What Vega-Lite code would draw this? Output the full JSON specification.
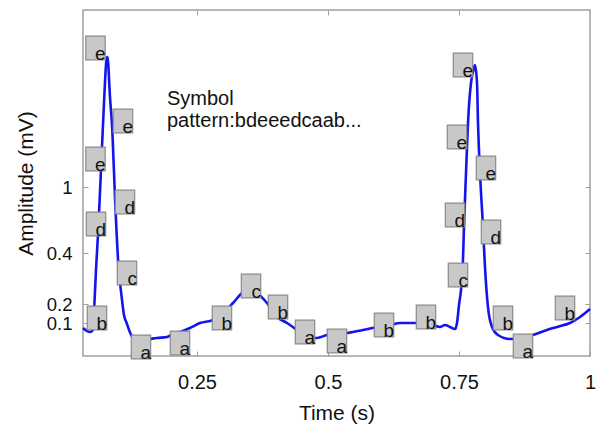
{
  "$schema": "https://vega.github.io/schema/vega-lite/v6.json",
  "width": 507,
  "height": 346,
  "autosize": "none",
  "padding": {"left": 83, "top": 10, "right": 7, "bottom": 73},
  "background": "white",
  "config": {
    "view": {"stroke": "#a0a0a0", "strokeWidth": 1.5},
    "font": "Liberation Sans",
    "axis": {
      "grid": false,
      "domain": false,
      "tickColor": "#a0a0a0",
      "tickSize": -5,
      "tickWidth": 1,
      "labelOverlap": false,
      "labelFont": "Liberation Sans",
      "labelFontSize": 20,
      "labelColor": "#111111",
      "titleFont": "Liberation Sans",
      "titleFontSize": 21,
      "titleFontWeight": "normal",
      "titleColor": "#111111"
    }
  },
  "datasets": {
    "signal": [
      {"t": 0.0325, "u": 28}, {"t": 0.0458, "u": 24}, {"t": 0.0515, "u": 26}, {"t": 0.054, "u": 49},
      {"t": 0.0573, "u": 86}, {"t": 0.0616, "u": 126}, {"t": 0.0668, "u": 186}, {"t": 0.0731, "u": 259},
      {"t": 0.0777, "u": 298}, {"t": 0.0792, "u": 299}, {"t": 0.084, "u": 259}, {"t": 0.0884, "u": 226},
      {"t": 0.0935, "u": 159}, {"t": 0.0998, "u": 93}, {"t": 0.1063, "u": 59}, {"t": 0.1107, "u": 41},
      {"t": 0.1158, "u": 33}, {"t": 0.1254, "u": 20}, {"t": 0.1374, "u": 15}, {"t": 0.1469, "u": 16},
      {"t": 0.1603, "u": 17}, {"t": 0.1737, "u": 18}, {"t": 0.1927, "u": 19}, {"t": 0.2042, "u": 22},
      {"t": 0.2176, "u": 24}, {"t": 0.2366, "u": 28}, {"t": 0.2557, "u": 33}, {"t": 0.2805, "u": 36},
      {"t": 0.2996, "u": 43}, {"t": 0.3187, "u": 53}, {"t": 0.3359, "u": 63}, {"t": 0.3473, "u": 67},
      {"t": 0.3645, "u": 63}, {"t": 0.3836, "u": 53}, {"t": 0.4027, "u": 39}, {"t": 0.4218, "u": 33},
      {"t": 0.4408, "u": 26}, {"t": 0.4599, "u": 19}, {"t": 0.479, "u": 18}, {"t": 0.4981, "u": 21},
      {"t": 0.5363, "u": 23}, {"t": 0.5668, "u": 26}, {"t": 0.5935, "u": 29}, {"t": 0.6183, "u": 31},
      {"t": 0.6374, "u": 33}, {"t": 0.6622, "u": 33}, {"t": 0.6889, "u": 33}, {"t": 0.7004, "u": 31},
      {"t": 0.7137, "u": 29}, {"t": 0.7233, "u": 31}, {"t": 0.7328, "u": 29}, {"t": 0.7424, "u": 27},
      {"t": 0.7462, "u": 33}, {"t": 0.75, "u": 51}, {"t": 0.7538, "u": 66}, {"t": 0.7576, "u": 96},
      {"t": 0.7595, "u": 129}, {"t": 0.7634, "u": 183}, {"t": 0.7672, "u": 233}, {"t": 0.7729, "u": 273},
      {"t": 0.7767, "u": 284}, {"t": 0.7805, "u": 291}, {"t": 0.7844, "u": 273}, {"t": 0.7863, "u": 233},
      {"t": 0.7901, "u": 183}, {"t": 0.7958, "u": 129}, {"t": 0.7996, "u": 89}, {"t": 0.8053, "u": 49},
      {"t": 0.813, "u": 29}, {"t": 0.8244, "u": 21}, {"t": 0.8473, "u": 17}, {"t": 0.8721, "u": 18},
      {"t": 0.8912, "u": 21}, {"t": 0.9179, "u": 26}, {"t": 0.937, "u": 29}, {"t": 0.9618, "u": 33},
      {"t": 0.9809, "u": 39}, {"t": 1.0, "u": 47}
    ],
    "symbols": [
      {"t": 0.0563, "u": 308, "s": "e"}, {"t": 0.1088, "u": 235, "s": "e"}, {"t": 0.0563, "u": 197, "s": "e"},
      {"t": 0.0573, "u": 132, "s": "d"}, {"t": 0.1126, "u": 154, "s": "d"}, {"t": 0.1164, "u": 83, "s": "c"},
      {"t": 0.0592, "u": 38, "s": "b"}, {"t": 0.1431, "u": 9, "s": "a"}, {"t": 0.2176, "u": 13, "s": "a"},
      {"t": 0.2977, "u": 38, "s": "b"}, {"t": 0.3531, "u": 70, "s": "c"}, {"t": 0.4046, "u": 49, "s": "b"},
      {"t": 0.4561, "u": 24, "s": "a"}, {"t": 0.5172, "u": 15, "s": "a"}, {"t": 0.6069, "u": 31, "s": "b"},
      {"t": 0.687, "u": 39, "s": "b"}, {"t": 0.7481, "u": 81, "s": "c"}, {"t": 0.7424, "u": 141, "s": "d"},
      {"t": 0.7462, "u": 219, "s": "e"}, {"t": 0.7576, "u": 291, "s": "e"}, {"t": 0.8015, "u": 188, "s": "e"},
      {"t": 0.8111, "u": 124, "s": "d"}, {"t": 0.834, "u": 38, "s": "b"}, {"t": 0.8721, "u": 10, "s": "a"},
      {"t": 0.9523, "u": 48, "s": "b"}
    ],
    "note": [
      {"t": 0.1927, "u": 251, "text": "Symbol"},
      {"t": 0.1927, "u": 229, "text": "pattern:bdeeedcaab..."}
    ]
  },
  "layer": [
    {
      "data": {"name": "signal"},
      "mark": {"type": "line", "color": "#1414ee", "strokeWidth": 2.6, "interpolate": "monotone"},
      "encoding": {
        "x": {"field": "t", "type": "quantitative", "scale": {"domain": [0.0325, 1], "nice": false, "zero": false},
          "axis": {"orient": "bottom", "values": [0.25, 0.5, 0.75, 1], "format": ".2~f", "title": "Time (s)", "labelPadding": 21, "titlePadding": 10, "labelFlush": false}},
        "y": {"field": "u", "type": "quantitative", "scale": {"domain": [0, 346], "nice": false, "zero": false},
          "axis": {"orient": "left", "values": [33, 52, 103, 169], "labelExpr": "datum.value == 33 ? '0.1' : datum.value == 52 ? '0.2' : datum.value == 103 ? '0.4' : '1'", "labelFontSize": 18.5, "title": "Amplitude (mV)", "labelPadding": 16, "titlePadding": 10}}
      }
    },
    {
      "data": {"name": "symbols"},
      "mark": {"type": "point", "shape": "M-0.82,-1H0.82V1H-0.82Z", "size": 560, "filled": true, "fill": "#c8c8c8", "stroke": "#8a8a8a", "strokeWidth": 1.2, "opacity": 1, "fillOpacity": 1},
      "encoding": {
        "x": {"field": "t", "type": "quantitative", "scale": {"domain": [0.0325, 1], "nice": false, "zero": false},
          "axis": {"orient": "top", "values": [0.25, 0.5, 0.75], "labels": false, "title": null}},
        "y": {"field": "u", "type": "quantitative", "scale": {"domain": [0, 346], "nice": false, "zero": false},
          "axis": {"orient": "right", "values": [33, 52, 103, 169], "labels": false, "title": null}}
      }
    },
    {
      "data": {"name": "symbols"},
      "mark": {"type": "text", "align": "right", "baseline": "alphabetic", "dx": 10, "dy": 12, "fontSize": 19, "color": "#111111", "font": "Liberation Sans"},
      "encoding": {
        "x": {"field": "t", "type": "quantitative", "axis": null},
        "y": {"field": "u", "type": "quantitative", "axis": null},
        "text": {"field": "s"}
      }
    },
    {
      "data": {"name": "note"},
      "mark": {"type": "text", "align": "left", "baseline": "alphabetic", "fontSize": 20, "color": "#111111", "font": "Liberation Sans"},
      "encoding": {
        "x": {"field": "t", "type": "quantitative", "axis": null},
        "y": {"field": "u", "type": "quantitative", "axis": null},
        "text": {"field": "text"}
      }
    }
  ],
  "resolve": {"axis": {"x": "independent", "y": "independent"}}
}
